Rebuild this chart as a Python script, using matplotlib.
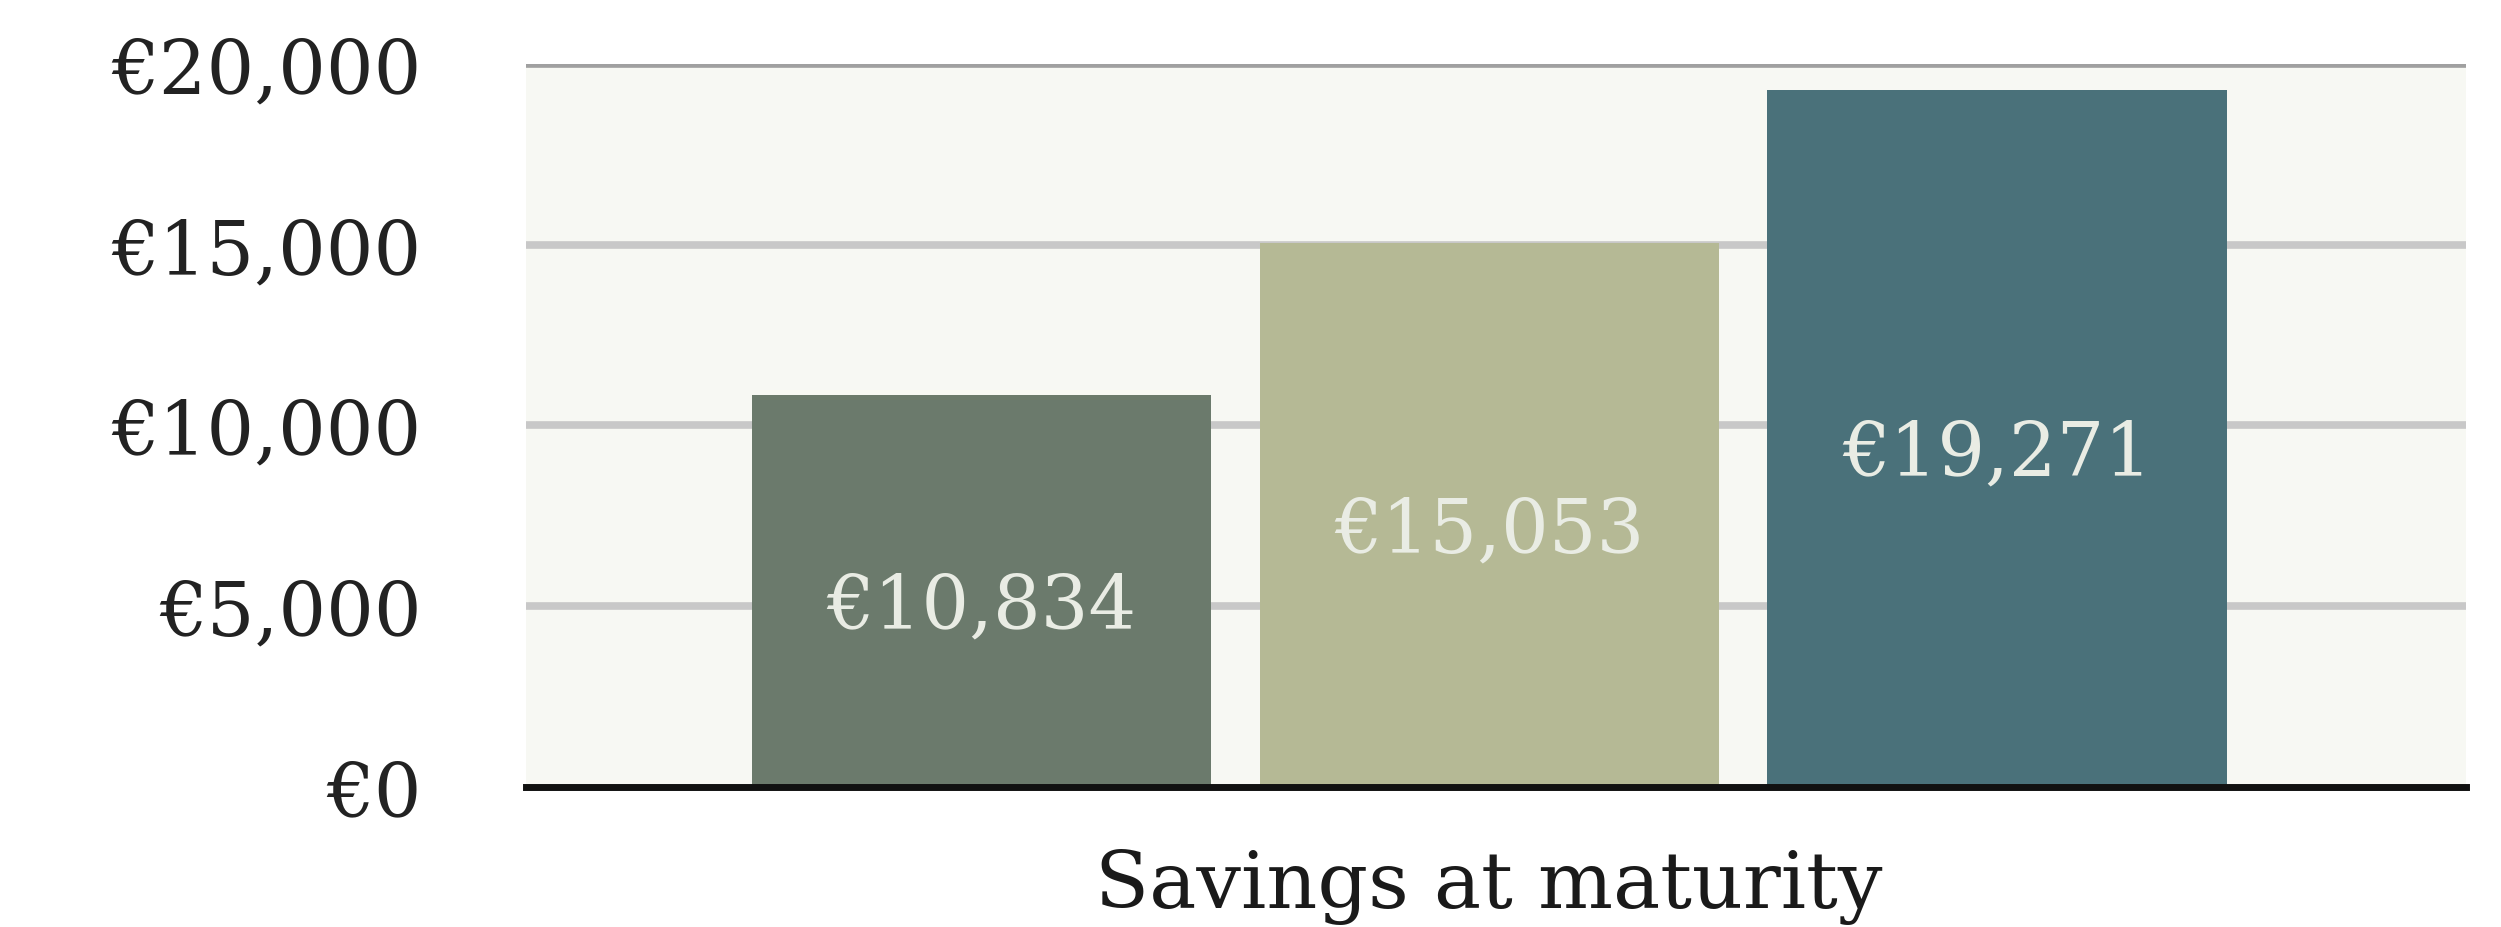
import matplotlib
matplotlib.use("Agg")
import matplotlib.pyplot as plt
import numpy as np

# ---- data ----
categories = ["Savings at maturity"]
series_values = [10834, 15053, 19271]
series_colors = ["#6b7a6c", "#b5b995", "#4a717a"]
ytick_values = [0, 5000, 10000, 15000, 20000]
ytick_labels = ["€0", "€5,000", "€10,000", "€15,000", "€20,000"]

plt.rcParams["font.family"] = ["DejaVu Serif"]

fig = plt.figure(figsize=(25.01, 9.28), dpi=100)
ax = fig.add_axes([0.2103, 0.1509, 0.7757, 0.7791])
ax.set_facecolor("#f7f8f3")

n = len(series_values)
offsets = np.arange(n) - (n - 1) / 2
bar_w = 0.904
bars = ax.bar(offsets, series_values, width=bar_w, color=series_colors,
              zorder=3, linewidth=0)

for x, v in zip(offsets, series_values):
    ax.annotate(f"€{v:,}", xy=(x, v / 2), xytext=(0, -26),
                textcoords="offset points", ha="center", va="baseline",
                fontsize=54, color="#e9ece4", zorder=4)

ax.set_xlim(-1.896, 1.923)
ax.set_ylim(0, 20000)
ax.set_yticks(ytick_values)
ax.set_yticklabels(ytick_labels)
ax.set_xticks([0])
ax.set_xticklabels(categories)

ax.tick_params(axis="y", length=0, pad=75, labelsize=54, labelcolor="#222222")
ax.tick_params(axis="x", length=0, pad=44, labelsize=57, labelcolor="#1a1a1a")

for y in ytick_values[1:]:
    ax.axhline(y, color="#a0a0a0" if y == ytick_values[-1] else "#c8c8c8",
               linewidth=5.5, zorder=1)

for side in ["left", "right", "top"]:
    ax.spines[side].set_visible(False)
ax.spines["bottom"].set_color("#111111")
ax.spines["bottom"].set_linewidth(5.0)
ax.spines["bottom"].set_zorder(5)

fig.savefig("out.png", dpi=100, facecolor="white")
